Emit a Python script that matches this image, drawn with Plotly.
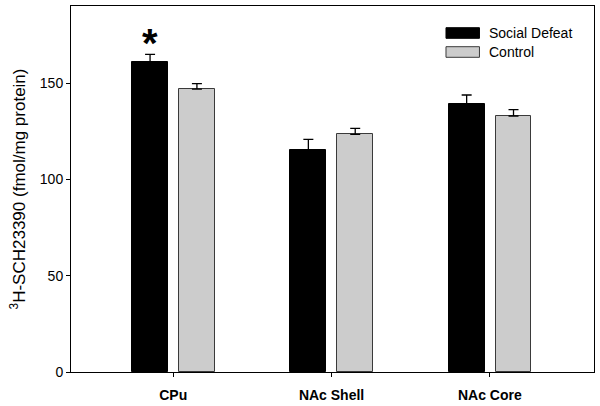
import plotly.graph_objects as go

categories = ["CPu", "NAc Shell", "NAc Core"]
social_defeat = [160.8, 115.4, 139.0]
social_defeat_err = [4.1, 5.4, 4.8]
control = [146.8, 123.4, 132.9]
control_err = [2.9, 3.1, 3.3]
series_names = ["Social Defeat", "Control"]
y_ticks = [0, 50, 100, 150]
significance = ["*", "", ""]

pos = list(range(len(categories)))

fig = go.Figure()
fig.add_trace(go.Bar(
    x=pos, y=social_defeat, name=series_names[0],
    width=0.227, offset=-0.260,
    marker=dict(color="#000000", line=dict(color="#000000", width=1)),
    error_y=dict(type="data", symmetric=False, array=social_defeat_err,
                 arrayminus=[0] * 3, color="#000000", thickness=1.3, width=5),
    showlegend=False,
))
fig.add_trace(go.Bar(
    x=pos, y=control, name=series_names[1],
    width=0.227, offset=0.036,
    marker=dict(color="#cccccc", line=dict(color="#3a3a3a", width=1)),
    error_y=dict(type="data", symmetric=False, array=control_err,
                 arrayminus=[0] * 3, color="#000000", thickness=1.3, width=5),
    showlegend=False,
))

# significance markers
for i, s in enumerate(significance):
    if s:
        fig.add_annotation(
            x=pos[i] - 0.260 + 0.227 / 2, y=social_defeat[i] + social_defeat_err[i],
            xref="x", yref="y", text="<b>" + s + "</b>", showarrow=False,
            yanchor="bottom", yshift=-13,
            font=dict(family="Arial, Liberation Sans, sans-serif", size=40, color="#000000"),
        )

# manual legend
legend_colors = [("#000000", "#000000"), ("#cccccc", "#3a3a3a")]
legend_rows = [33, 52]  # px from top of figure
plot_top, plot_h = 6, 366
for (fill, line), name, row in zip(legend_colors, series_names, legend_rows):
    y0 = 1 - (row - 5.3 - plot_top) / plot_h
    y1 = 1 - (row + 5.3 - plot_top) / plot_h
    fig.add_shape(type="rect", xref="paper", yref="paper",
                  x0=0.717, x1=0.781, y0=y1, y1=y0,
                  fillcolor=fill, line=dict(color=line, width=1))
    fig.add_annotation(xref="paper", yref="paper", x=0.795,
                       y=1 - (row - plot_top) / plot_h,
                       text=name, showarrow=False, xanchor="left", yanchor="middle",
                       font=dict(family="Arial, Liberation Sans, sans-serif", size=14, color="#000000"))

fig.update_layout(
    width=600, height=406,
    margin=dict(l=71, r=6, t=6, b=34),
    paper_bgcolor="white", plot_bgcolor="white",
    font=dict(family="Arial, Liberation Sans, sans-serif", color="#000000", size=14),
    bargap=0,
)
fig.update_xaxes(
    range=[-0.646, 2.658], tickvals=pos,
    ticktext=["<b>" + c + "</b>" for c in categories],
    showline=True, linecolor="#000000", linewidth=1, mirror=True,
    ticks="outside", ticklen=4, tickcolor="#000000", tickwidth=1,
    showgrid=False, zeroline=False, automargin=False,
    tickfont=dict(size=14), ticklabelstandoff=6,
)
fig.update_yaxes(
    range=[0, 190], tickvals=y_ticks,
    showline=True, linecolor="#000000", linewidth=1, mirror=True,
    ticks="outside", ticklen=4, tickcolor="#000000", tickwidth=1,
    showgrid=False, zeroline=False, automargin=False,
    tickfont=dict(size=14),
    title=dict(text="<sup>3</sup>H-SCH23390 (fmol/mg protein)", font=dict(size=17), standoff=9),
)

fig.write_html("out.html", config={"displayModeBar": False},
               post_script="document.body.style.margin='0';document.body.style.padding='0';")
